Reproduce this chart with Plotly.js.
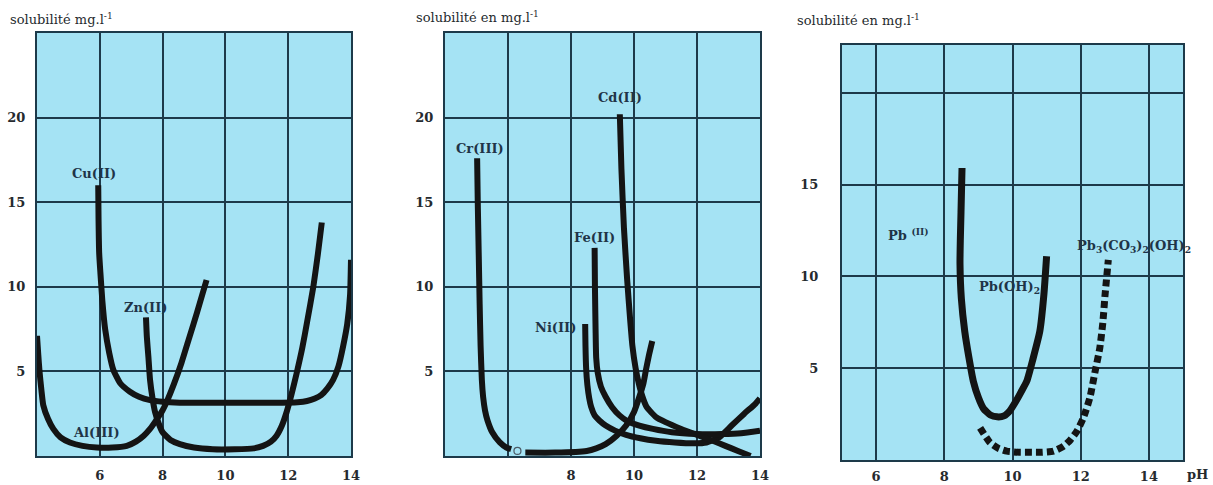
<!DOCTYPE html>
<html>
<head>
<meta charset="utf-8">
<script src="https://cdn.plot.ly/plotly-3.0.1.min.js"></script>
<style>html,body{margin:0;padding:0;background:#fff;}#chart{width:1213px;height:485px;}</style>
</head>
<body>
<div id="chart"></div>
<script>
// ---- Panel 1 : Cu(II), Zn(II), Al(III) ----
const cuX = [5.95, 5.96, 5.98, 6.02, 6.08, 6.17, 6.3, 6.43, 6.65, 6.96, 7.25, 7.6, 8.0, 8.55, 9.5, 10.5, 11.5, 12.3, 12.6, 12.85, 13.05, 13.25, 13.43, 13.6, 13.75, 13.88, 13.97, 14.0];
const cuY = [16.0, 14.0, 12.0, 10.8, 9.2, 7.5, 6.1, 5.1, 4.3, 3.8, 3.5, 3.3, 3.2, 3.15, 3.15, 3.15, 3.15, 3.18, 3.25, 3.4, 3.6, 4.0, 4.5, 5.3, 6.5, 7.8, 9.5, 11.6];
const znX = [7.47, 7.5, 7.55, 7.6, 7.68, 7.76, 7.88, 8.0, 8.25, 8.55, 9.0, 9.6, 10.3, 10.9, 11.2, 11.45, 11.63, 11.8, 11.95, 12.1, 12.27, 12.45, 12.6, 12.8, 12.95, 13.07];
const znY = [8.2, 7.0, 5.8, 4.5, 3.4, 2.6, 1.9, 1.4, 0.95, 0.7, 0.5, 0.4, 0.4, 0.45, 0.6, 0.85, 1.2, 1.8, 2.6, 3.6, 4.9, 6.4, 7.9, 10.0, 12.0, 13.8];
const alX = [4.0, 4.04, 4.08, 4.14, 4.2, 4.35, 4.52, 4.75, 5.05, 5.45, 5.9, 6.4, 6.86, 7.15, 7.4, 7.6, 7.81, 8.0, 8.13, 8.35, 8.6, 8.85, 9.1, 9.4];
const alY = [7.1, 6.0, 5.0, 3.9, 3.0, 2.2, 1.6, 1.1, 0.8, 0.6, 0.5, 0.5, 0.6, 0.85, 1.2, 1.6, 2.15, 2.7, 3.2, 4.2, 5.5, 7.0, 8.5, 10.4];

// ---- Panel 2 : Cr(III), Cd(II), Fe(II), Ni(II) ----
const crX1 = [5.02, 5.04, 5.07, 5.1, 5.13, 5.17, 5.21, 5.27, 5.35, 5.5, 5.74, 5.95, 6.1];
const crY1 = [17.6, 15.0, 12.0, 9.0, 6.5, 4.5, 3.5, 2.7, 2.1, 1.4, 0.8, 0.5, 0.4];
const crX2 = [6.55, 7.5, 8.5, 8.8, 9.1, 9.45, 9.75, 10.0, 10.17, 10.3, 10.38, 10.48, 10.58];
const crY2 = [0.2, 0.2, 0.3, 0.45, 0.7, 1.2, 1.8, 2.6, 3.5, 4.3, 5.1, 6.0, 6.8];
const crMarkX = [6.3];
const crMarkY = [0.3];
const cdX = [9.55, 9.6, 9.68, 9.78, 9.88, 9.95, 10.05, 10.15, 10.27, 10.4, 10.7, 11.0, 11.5, 12.07, 12.5, 12.9, 13.3, 13.7];
const cdY = [20.2, 17.0, 13.5, 10.5, 8.0, 6.5, 5.2, 4.3, 3.5, 2.9, 2.3, 2.0, 1.6, 1.2, 0.9, 0.6, 0.3, 0.0];
const feX = [8.75, 8.76, 8.78, 8.8, 8.85, 8.95, 9.1, 9.3, 9.54, 9.8, 10.17, 10.6, 11.2, 12.0, 12.8, 13.4, 14.0];
const feY = [12.3, 10.0, 7.5, 5.8, 4.9, 4.1, 3.5, 2.9, 2.4, 2.05, 1.8, 1.6, 1.4, 1.3, 1.3, 1.35, 1.5];
const niX = [8.45, 8.46, 8.48, 8.52, 8.58, 8.64, 8.75, 8.9, 9.1, 9.4, 9.75, 10.2, 10.7, 11.3, 11.9, 12.3, 12.7, 13.1, 13.5, 13.86, 14.0];
const niY = [7.8, 6.5, 5.2, 4.2, 3.4, 2.9, 2.4, 2.1, 1.8, 1.5, 1.25, 1.05, 0.9, 0.8, 0.75, 0.8, 1.1, 1.8, 2.5, 3.1, 3.4];

// ---- Panel 3 : Pb(II) ----
const pbX = [8.52, 8.49, 8.47, 8.46, 8.5, 8.6, 8.72, 8.85, 9.0, 9.15, 9.35, 9.55, 9.75, 9.93, 10.1, 10.25, 10.42, 10.6, 10.8, 10.92, 11.0];
const pbY = [15.9, 13.5, 12.0, 10.7, 8.8, 7.0, 5.6, 4.3, 3.4, 2.8, 2.45, 2.35, 2.4, 2.7, 3.2, 3.7, 4.3, 5.5, 7.0, 9.0, 11.1];
const pcX = [9.05, 9.34, 9.6, 9.83, 10.2, 10.5, 10.85, 11.2, 11.5, 11.7, 11.9, 12.08, 12.27, 12.42, 12.56, 12.65, 12.71, 12.81];
const pcY = [1.75, 0.95, 0.62, 0.48, 0.42, 0.42, 0.42, 0.48, 0.75, 1.1, 1.6, 2.3, 3.4, 4.8, 6.1, 7.5, 8.9, 10.9];

// ---- Tick labels ----
const xTickVals = [6, 8, 10, 12, 14];
const xText1 = ["6", "8", "10", "12", "14"];
const xText2 = ["", "8", "10", "12", "14"];
const xText3 = ["6", "8", "10", "12", "14"];
const yTickVals = [5, 10, 15, 20];
const yText12 = ["5", "10", "15", "20"];
const yText3 = ["5", "10", "15", ""];

const INK = '#141414';
const GRID = '#1d3a4a';
const TXT = '#262a2e';
const LBL = '#1f3447';
const FONT = 'DejaVu Serif, Liberation Serif, serif';

function line(x, y, xa, ya, w, dash) {
  return {x: x, y: y, xaxis: xa, yaxis: ya, type: 'scatter', mode: 'lines',
    line: {color: INK, width: w, shape: 'spline', smoothing: 0.5, dash: dash || 'solid'},
    hoverinfo: 'skip', showlegend: false};
}

const data = [
  line(alX, alY, 'x', 'y', 6),
  line(cuX, cuY, 'x', 'y', 6),
  line(znX, znY, 'x', 'y', 6),
  line(crX1, crY1, 'x2', 'y2', 6),
  line(crX2, crY2, 'x2', 'y2', 6),
  {x: crMarkX, y: crMarkY, xaxis: 'x2', yaxis: 'y2', type: 'scatter', mode: 'markers',
   marker: {symbol: 'circle-open', size: 7, color: '#4a5a66', line: {width: 1.2}}, hoverinfo: 'skip', showlegend: false},
  line(niX, niY, 'x2', 'y2', 6),
  line(feX, feY, 'x2', 'y2', 6),
  line(cdX, cdY, 'x2', 'y2', 6),
  line(pbX, pbY, 'x3', 'y3', 7),
  line(pcX, pcY, 'x3', 'y3', 7, '7px,4px')
];

function xax(dom, range, txt, anchor, standoff) {
  return {domain: dom, range: range, anchor: anchor, tickmode: 'array', tickvals: xTickVals, ticktext: txt,
    showgrid: true, gridcolor: GRID, gridwidth: 2, zeroline: false, showline: true, mirror: true,
    linecolor: GRID, linewidth: 2, ticks: '', ticklabelstandoff: standoff,
    tickfont: {family: FONT, size: 13, color: TXT, weight: 'bold'}, fixedrange: true};
}
function yax(dom, range, txt, anchor, standoff) {
  return {domain: dom, range: range, anchor: anchor, tickmode: 'array', tickvals: yTickVals, ticktext: txt,
    showgrid: true, gridcolor: GRID, gridwidth: 2, zeroline: false, showline: true, mirror: true,
    linecolor: GRID, linewidth: 2, ticks: '', ticklabelstandoff: standoff,
    tickfont: {family: FONT, size: 13, color: TXT, weight: 'bold'}, fixedrange: true};
}

const W = 1213, H = 485;
const d1x = [37 / W, 351 / W], d2x = [445 / W, 760 / W], d3x = [842 / W, 1183 / W];
const d12y = [(H - 456) / H, (H - 33) / H], d3y = [(H - 460) / H, (H - 45) / H];

function lab(text, x, y, xr, yr) {
  return {text: text, x: x, y: y, xref: xr, yref: yr, showarrow: false,
    font: {family: FONT, size: 13, color: LBL, weight: 'bold'}, xanchor: 'center', yanchor: 'middle'};
}
function ttl(text, px, py) {
  return {text: text, x: px / W, y: (H - py) / H, xref: 'paper', yref: 'paper', showarrow: false,
    font: {family: FONT, size: 13, color: TXT}, xanchor: 'left', yanchor: 'middle'};
}

const layout = {
  width: W, height: H,
  margin: {l: 0, r: 0, t: 0, b: 0},
  paper_bgcolor: '#ffffff',
  plot_bgcolor: '#a5e3f4',
  showlegend: false,
  xaxis: xax(d1x, [4, 14], xText1, 'y', 6),
  yaxis: yax(d12y, [0, 25], yText12, 'x', 7),
  xaxis2: xax(d2x, [4, 14], xText2, 'y2', 6),
  yaxis2: yax(d12y, [0, 25], yText12, 'x2', 7),
  xaxis3: xax(d3x, [5, 15], xText3, 'y3', 3),
  yaxis3: yax(d3y, [0, 22.6], yText3, 'x3', 19),
  annotations: [
    ttl('solubilité mg.l<sup>-1</sup>', 8, 19),
    ttl('solubilité en mg.l<sup>-1</sup>', 414, 17),
    ttl('solubilité en mg.l<sup>-1</sup>', 795, 20),
    lab('Cu(II)', 5.8, 16.7, 'x', 'y'),
    lab('Zn(II)', 7.47, 8.8, 'x', 'y'),
    lab('Al(III)', 5.9, 1.4, 'x', 'y'),
    lab('Cd(II)', 9.54, 21.2, 'x2', 'y2'),
    lab('Cr(III)', 5.1, 18.2, 'x2', 'y2'),
    lab('Fe(II)', 8.75, 12.9, 'x2', 'y2'),
    lab('Ni(II)', 7.5, 7.6, 'x2', 'y2'),
    lab('Pb <sup>(II)</sup>', 6.95, 12.3, 'x3', 'y3'),
    lab('Pb(OH)<sub>2</sub>', 9.9, 9.4, 'x3', 'y3'),
    lab('Pb<sub>3</sub>(CO<sub>3</sub>)<sub>2</sub>(OH)<sub>2</sub>', 13.56, 11.6, 'x3', 'y3'),
    {text: 'pH', x: 1197 / W, y: (H - 474) / H, xref: 'paper', yref: 'paper', showarrow: false,
     font: {family: FONT, size: 13, color: TXT, weight: 'bold'}, xanchor: 'center', yanchor: 'middle'}
  ]
};

Plotly.newPlot('chart', data, layout, {displayModeBar: false, staticPlot: true});
</script>
</body>
</html>
